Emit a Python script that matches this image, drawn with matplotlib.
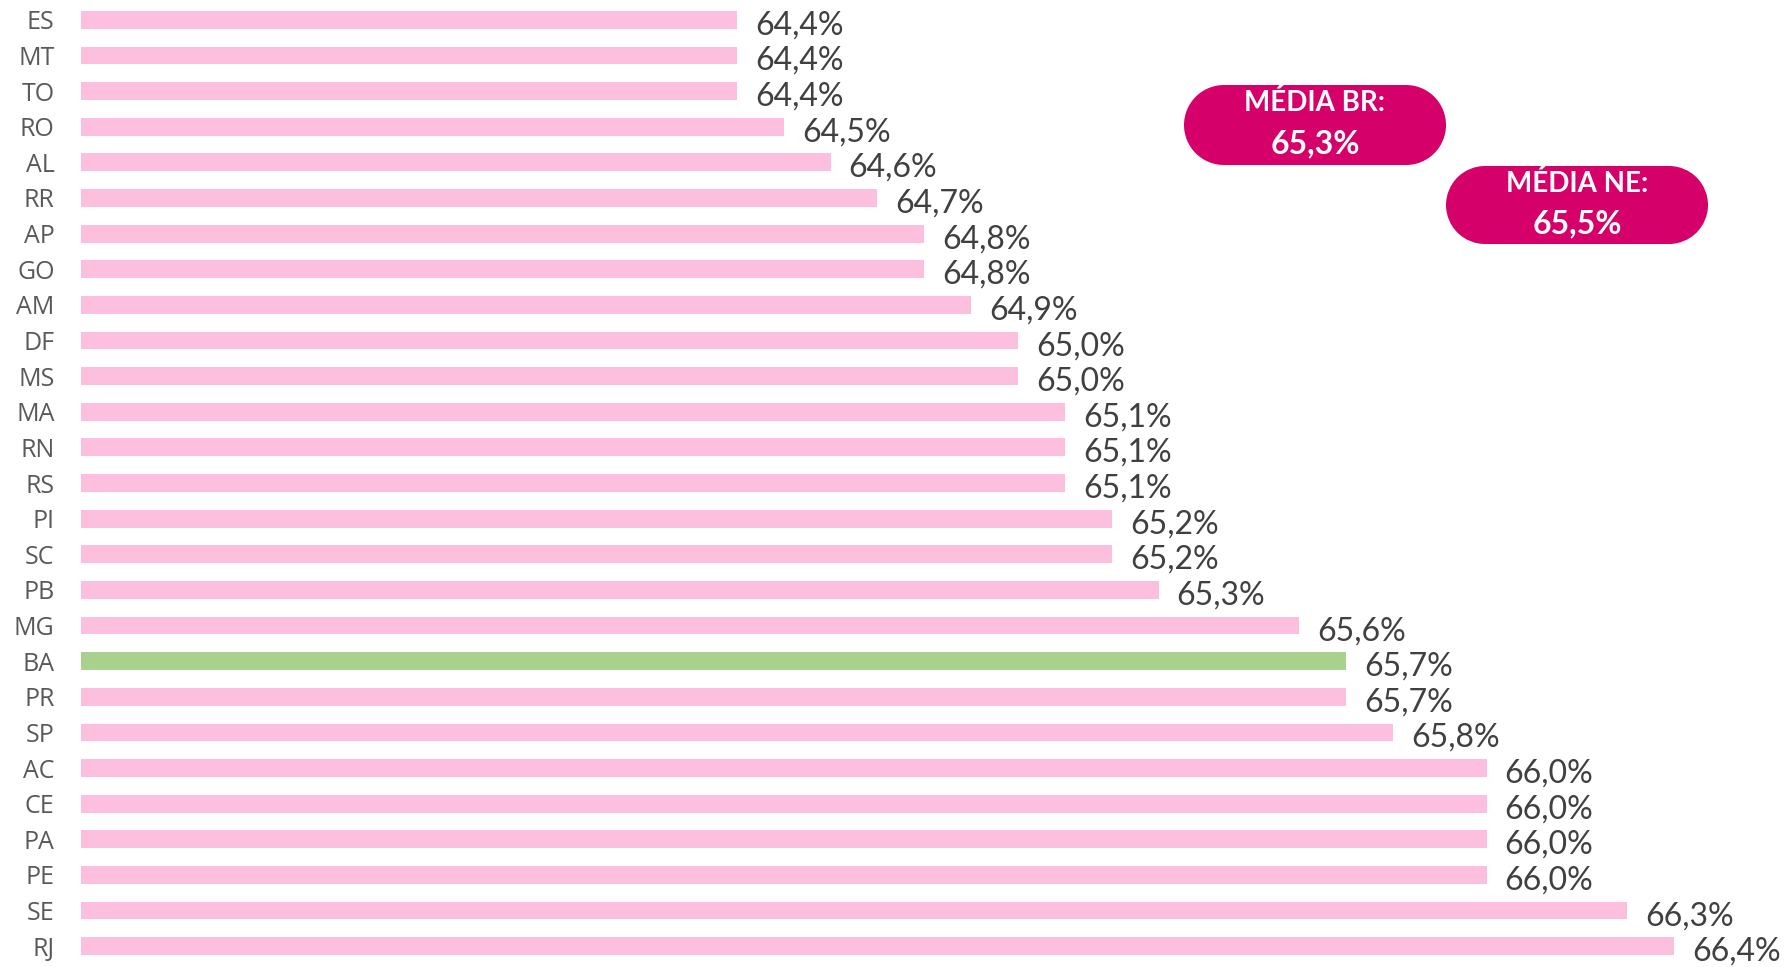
import matplotlib.pyplot as plt
from matplotlib.patches import Rectangle, Ellipse

# data, top to bottom as in the picture
states = ['ES', 'MT', 'TO', 'RO', 'AL', 'RR', 'AP', 'GO', 'AM', 'DF', 'MS', 'MA', 'RN', 'RS',
          'PI', 'SC', 'PB', 'MG', 'BA', 'PR', 'SP', 'AC', 'CE', 'PA', 'PE', 'SE', 'RJ']
values = [64.4, 64.4, 64.4, 64.5, 64.6, 64.7, 64.8, 64.8, 64.9, 65.0, 65.0, 65.1, 65.1, 65.1,
          65.2, 65.2, 65.3, 65.6, 65.7, 65.7, 65.8, 66.0, 66.0, 66.0, 66.0, 66.3, 66.4]
highlight = 'BA'
media_labels = ['MÉDIA BR:', 'MÉDIA NE:']
media_values = ['65,3%', '65,5%']

PINK = '#FCC0DE'
GREEN = '#A9D18E'
MAGENTA = '#D5006A'

W, H = 1785, 967
fig = plt.figure(figsize=(W / 100, H / 100), dpi=100)
fig.patch.set_facecolor('white')

# axes placed in pixel units
left, right, top, bottom = 81, W, 2, 964
ax = fig.add_axes([left / W, 1 - bottom / H, (right - left) / W, (bottom - top) / H])

x0 = 63.0
px_per_unit = 468.5
x1 = x0 + (right - left) / px_per_unit

pos = list(range(len(states)))
colors = [GREEN if s == highlight else PINK for s in states]
ax.barh(pos, [v - x0 for v in values], left=x0, height=0.5, color=colors)
ax.set_xlim(x0, x1)
ax.set_ylim(len(states) - 0.5, -0.5)

ax.set_yticks(pos)
ax.set_yticklabels(states, fontsize=18, color='#595959', family='Open Sans')
ax.tick_params(axis='y', length=0, pad=19)
ax.set_xticks([])
for sp in ax.spines.values():
    sp.set_visible(False)

for p, v in zip(pos, values):
    ax.annotate(f'{v:.1f}%'.replace('.', ','), (v, p), xytext=(13, -4),
                textcoords='offset points', va='center', ha='left',
                fontsize=23, color='#404040', family='Lato')

# overlay in pixel coordinates for the badges
ov = fig.add_axes([0, 0, 1, 1])
ov.set_xlim(0, W)
ov.set_ylim(H, 0)
ov.axis('off')

boxes = [(1184, 85, 262, 80), (1446, 166, 262, 78)]
for (bx, by, bw, bh), lab, val in zip(boxes, media_labels, media_values):
    r = bh * 0.5
    ov.add_patch(Rectangle((bx + r, by), bw - 2 * r, bh, facecolor=MAGENTA, edgecolor='none'))
    ov.add_patch(Ellipse((bx + r, by + bh / 2), 2 * r, bh, facecolor=MAGENTA, edgecolor='none'))
    ov.add_patch(Ellipse((bx + bw - r, by + bh / 2), 2 * r, bh, facecolor=MAGENTA, edgecolor='none'))
    ov.add_patch(Rectangle((bx + r * 0.5, by + bh * 0.15), bw - r, bh * 0.7,
                           facecolor=MAGENTA, edgecolor='none'))
    ov.text(bx + bw / 2, by + bh * 0.22, lab, ha='center', va='center',
            fontsize=20, fontweight='bold', color='white', family='Lato')
    ov.text(bx + bw / 2, by + bh * 0.74, val, ha='center', va='center',
            fontsize=23, fontweight='bold', color='white', family='Lato')

fig.savefig('out.png', dpi=100, facecolor='white')
